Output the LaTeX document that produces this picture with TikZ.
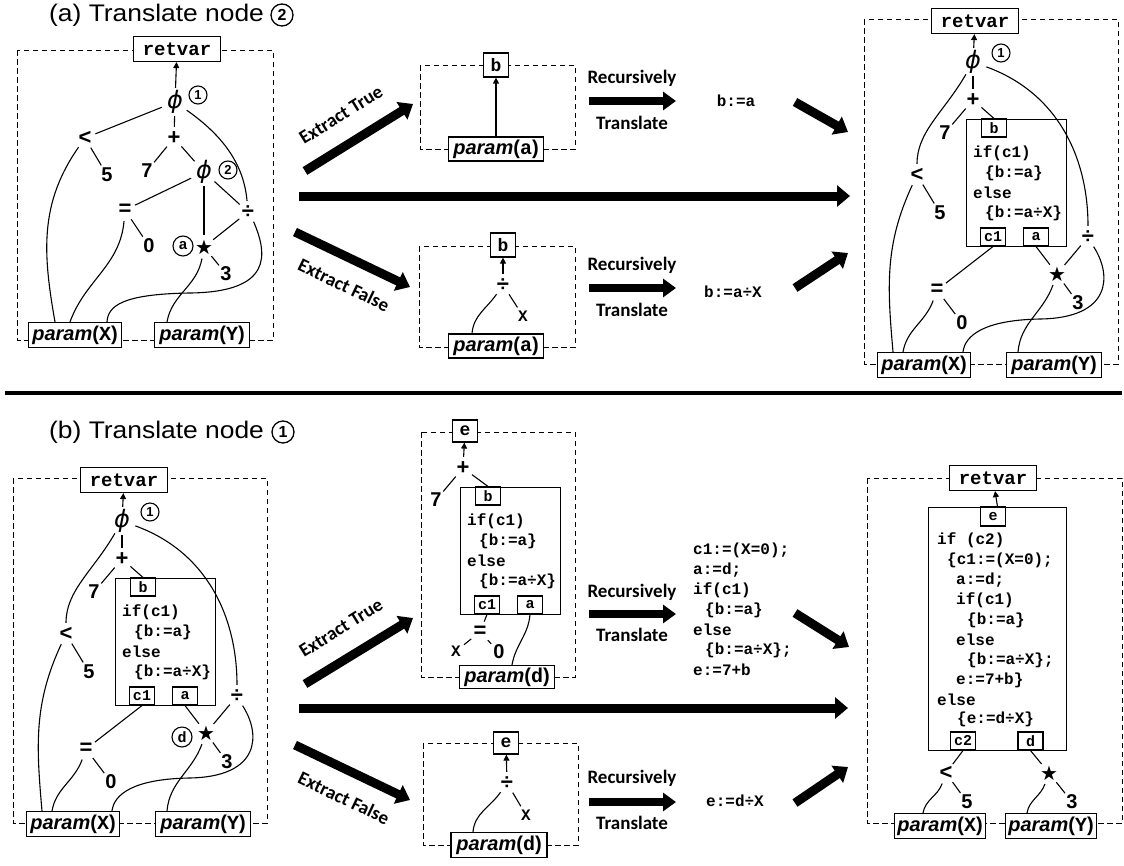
\documentclass[tikz,border=0pt]{standalone}
\usepackage{fontspec}
\usepackage{graphicx}
\setmainfont{Liberation Sans}
\setmonofont{Liberation Mono}
\newfontfamily\calib{Carlito}
\newfontfamily\djv{DejaVu Sans}
\usetikzlibrary{arrows.meta}
\newcommand\myfs[1]{\fontsize{#1}{#1}\selectfont}
\newcommand\prm[1]{\textit{param}(\texttt{#1})}
\newcommand\phig{{\djv\itshape ϕ}}
\newcommand\stg{{\djv\myfs{20}★}}

\tikzset{
  wire/.style={line width=1.1pt},
  dbox/.style={line width=1pt, dash pattern=on 5.5pt off 3.5pt},
  vbox/.style={draw, line width=1.2pt, fill=white, inner sep=0pt, minimum width=87pt, minimum height=25pt, font=\myfs{19}\ttfamily\bfseries},
  sbox/.style={draw, line width=1.1pt, fill=white, inner sep=0pt, minimum width=25pt, minimum height=18pt, font=\myfs{15}\ttfamily\bfseries},
  mbox/.style={draw, line width=1.2pt, fill=white, inner sep=0pt, minimum width=25pt, minimum height=24pt, font=\myfs{18}\ttfamily\bfseries},
  pbox/.style={draw, line width=1.2pt, fill=white, inner sep=0pt, minimum width=93pt, minimum height=25pt, font=\myfs{20}\bfseries},
  ifb/.style={draw, line width=1.1pt, fill=white, inner sep=0pt, anchor=north west},
  opn/.style={circle, inner sep=0pt, minimum size=22pt, font=\myfs{22}\bfseries},
  numn/.style={circle, inner sep=0pt, minimum size=22pt, font=\myfs{20}\bfseries},
  vlab/.style={circle, inner sep=0pt, minimum size=20pt, font=\myfs{16}\ttfamily\bfseries},
  phin/.style={circle, inner sep=0pt, minimum size=26pt, font=\myfs{24}},
  codetxt/.style={inner sep=0pt, anchor=west, font=\myfs{16}\ttfamily\bfseries},
  cnum/.style={circle, draw, line width=1.1pt, inner sep=0pt, minimum size=18pt, font=\myfs{13}\bfseries},
  clet/.style={circle, draw, line width=1.1pt, inner sep=0pt, minimum size=20pt, font=\myfs{15}\ttfamily\bfseries},
  sidetxt/.style={inner sep=0pt, font=\myfs{19}\calib\bfseries},
  ttl/.style={inner sep=0pt, anchor=west, font=\myfs{24}},
  tcirc/.style={circle, draw, line width=1.3pt, inner sep=0pt, minimum size=22pt, font=\myfs{16}\bfseries},
  bigarr/.style={line width=9pt, -{Triangle[length=13pt,width=21pt]}},
  diagarr/.style={line width=9pt, -{Triangle[length=13pt,width=20pt]}},
  medarr/.style={line width=7.5pt, -{Triangle[length=13pt,width=18pt]}},
  smallarr/.style={line width=1.1pt, -{Triangle[length=6pt,width=6pt]}},
  sepline/.style={line width=4pt},
}

\newcommand\ifboxA{%
  \node[ifb, minimum width=100pt, minimum height=127pt] (ib) at (0,0) {};
  \node[sbox] (bb) at (28,-9) {b};
  \node[codetxt] (l1) at (7,-34) {if(c1)};
  \node[codetxt] (l2) at (19,-54) {\{b:=a\}};
  \node[codetxt] (l3) at (7,-74) {else};
  \node[codetxt] (l4) at (19,-94) {\{b:=a÷X\}};
  \node[sbox] (cc) at (27,-118) {c1};
  \node[sbox] (ab) at (70,-118) {a};
}

\newcommand\treeOne{%
  \draw[dbox] (864,-19) rectangle (1118,-364);
  \node[vbox] (rv) at (975,-21) {retvar};
  \node[phin] (phi) at (973,-62) {\phig};
  \node[cnum] (n1) at (1001,-53) {1};
  \node[opn] (plus) at (973,-100) {+};
  \node[numn] (seven) at (945,-133) {7};
  \begin{scope}[shift={(966,-119)}] \ifboxA \end{scope}
  \node[opn] (lt) at (917,-175) {<};
  \node[numn] (five) at (940,-213) {5};
  \node[opn] (div) at (1088,-237) {÷};
  \node[opn] (star) at (1057,-274) {\stg};
  \node[numn] (three) at (1078,-303) {3};
  \node[opn] (eq) at (937,-290) {=};
  \node[numn] (zero) at (962,-323) {0};
  \node[pbox] (px) at (924,-365) {\prm{X}};
  \node[pbox, minimum width=95pt] (py) at (1054,-365) {\prm{Y}};
  \draw[smallarr] (phi) -- (rv);
  \draw[wire] (phi) -- (plus);
  \draw[wire] (plus) -- (seven);
  \draw[wire] (plus) -- (bb.north);
  \draw[wire] (phi) to[out=240,in=90] (lt);
  \draw[wire] (lt) -- (five);
  \draw[wire] (lt) to[out=245,in=95] ([xshift=-31pt]px.north);
  \draw[wire] (cc.south) -- (eq);
  \draw[wire] (eq) -- (zero);
  \draw[wire] (eq) to[out=250,in=80] ([xshift=-21pt]px.north);
  \draw[wire] (ab.south) -- (star);
  \draw[wire] (div) -- (star);
  \draw[wire] (star) -- (three);
  \draw[wire] (star) to[out=250,in=85] ([xshift=-36pt]py.north);
  \draw[wire] (phi) to[out=-20,in=90] (div);
  \draw[wire] (div.-60) .. controls (1112,-275) and (1112,-318) .. (1040,-319) .. controls (985,-320) and (965,-335) .. ([xshift=39pt]px.north);
}

\begin{document}
\begin{tikzpicture}[x=1pt,y=1pt]
\useasboundingbox (0,0) rectangle (1124,-865);

% titles
\node[ttl] (ta) at (49,-15) {\scalebox{1.1}[1]{(a) Translate node}};
\node[tcirc] (ta2) at (282,-15) {2};
\node[ttl] (tb) at (49,-432) {\scalebox{1.1}[1]{(b) Translate node}};
\node[tcirc] (tb1) at (283,-432) {1};

% separator
\coordinate (sepl) at (5,-393);
\coordinate (sepr) at (1122,-393);
\draw[sepline] (sepl) -- (sepr);

% ===== (a) left =====
\begin{scope}[name prefix=al-]
\draw[dbox] (17,-50) rectangle (273,-340);
\node[vbox] (rv) at (177,-49) {retvar};
\node[phin] (phi1) at (175,-102) {\phig};
\node[cnum] (n1) at (198,-95) {1};
\node[opn] (lt) at (85,-138) {<};
\node[opn] (plus) at (174,-138) {+};
\node[numn] (five) at (107,-175) {5};
\node[numn] (seven) at (147,-171) {7};
\node[phin] (phi2) at (204,-172) {\phig};
\node[cnum] (n2) at (228,-170) {2};
\node[opn] (eq) at (125,-210) {=};
\node[opn] (div) at (248,-212) {÷};
\node[numn] (zero) at (149,-246) {0};
\node[clet] (ac) at (183,-246) {a};
\node[opn] (star) at (204,-247) {\stg};
\node[numn] (three) at (226,-274) {3};
\node[pbox] (px) at (75,-335) {\prm{X}};
\node[pbox, minimum width=95pt] (py) at (202,-335) {\prm{Y}};
\draw[smallarr] (phi1) -- (rv);
\draw[wire] (phi1) -- (lt);
\draw[wire] (phi1) -- (plus);
\draw[wire] (phi1) to[out=-35,in=95] (div);
\draw[wire] (lt) -- (five);
\draw[wire] (plus) -- (seven);
\draw[wire] (plus) -- (phi2);
\draw[wire] (lt) to[out=235,in=100] ([xshift=-20pt]px.north);
\draw[wire] (phi2) -- (eq);
\draw[wire] (phi2) -- (star);
\draw[wire] (phi2) -- (div);
\draw[wire] (eq) -- (zero);
\draw[wire] (eq) to[out=265,in=70] ([xshift=-5pt]px.north);
\draw[wire] (star) -- (div);
\draw[wire] (star) -- (three);
\draw[wire] (star) to[out=260,in=80] ([xshift=-35pt]py.north);
\draw[wire] (div.-60) .. controls (268,-255) and (272,-292) .. (190,-293) .. controls (122,-294) and (108,-306) .. ([xshift=32pt]px.north);
\end{scope}

% ===== (a) middle top =====
\begin{scope}[name prefix=amt-]
\draw[dbox] (420,-65) rectangle (575,-149);
\node[mbox] (b) at (496,-65) {b};
\node[pbox, minimum width=95pt, minimum height=24pt] (pa) at (496,-149) {\prm{a}};
\draw[smallarr] (pa) -- (b);
\end{scope}

% ===== (a) middle bottom =====
\begin{scope}[name prefix=amb-]
\draw[dbox] (419,-246) rectangle (575,-347);
\node[mbox] (b) at (503,-245) {b};
\node[opn] (div) at (503,-285) {÷};
\node[vlab] (x) at (523,-316) {X};
\node[pbox, minimum width=95pt, minimum height=24pt] (pa) at (496,-346) {\prm{a}};
\draw[smallarr] (div) -- (b);
\draw[wire] (div) -- (x);
\draw[wire] (div) to[out=235,in=85] ([xshift=-24pt]pa.north);
\end{scope}

% ===== (a) right =====
\begin{scope}[name prefix=ar-]
\treeOne
\end{scope}

% ===== (a) arrows and texts =====
\coordinate (aet-s) at (305,-171); \coordinate (aet-e) at (413,-104);
\draw[diagarr] (aet-s) -- (aet-e);
\node[sidetxt, rotate=31.8] (aetl) at (341,-115) {Extract True};
\coordinate (aef-s) at (295,-232); \coordinate (aef-e) at (410,-287);
\draw[diagarr] (aef-s) -- (aef-e);
\node[sidetxt, rotate=-25.6] (aefl) at (344,-285) {Extract False};
\coordinate (ah-s) at (299,-196); \coordinate (ah-e) at (850,-196);
\draw[bigarr] (ah-s) -- (ah-e);

\coordinate (art-s) at (589,-101); \coordinate (art-e) at (676,-101);
\draw[medarr] (art-s) -- (art-e);
\node[sidetxt] (artr) at (632,-78) {Recursively};
\node[sidetxt] (artt) at (632,-123) {Translate};
\coordinate (arb-s) at (589,-288); \coordinate (arb-e) at (676,-288);
\draw[medarr] (arb-s) -- (arb-e);
\node[sidetxt] (arbr) at (632,-265) {Recursively};
\node[sidetxt] (arbt) at (632,-310) {Translate};

\node[codetxt, anchor=center] (acode1) at (736,-101) {b:=a};
\node[codetxt, anchor=center] (acode2) at (733,-292) {b:=a÷X};

\coordinate (ad1-s) at (795,-102); \coordinate (ad1-e) at (848,-132);
\draw[diagarr] (ad1-s) -- (ad1-e);
\coordinate (ad2-s) at (795,-288); \coordinate (ad2-e) at (848,-253);
\draw[diagarr] (ad2-s) -- (ad2-e);

% ===== (b) left =====
\begin{scope}[shift={(-851,-459)}, name prefix=bl-]
\treeOne
\node[clet] (dc) at (1033,-278) {d};
\end{scope}

% ===== (b) middle top =====
\begin{scope}[name prefix=bmt-]
\draw[dbox] (421,-432) rectangle (575,-677);
\node[mbox, minimum height=22pt] (e) at (465,-431) {e};
\node[opn] (plus) at (463,-468) {+};
\node[numn] (seven) at (436,-500) {7};
\begin{scope}[shift={(460,-487)}] \ifboxA \end{scope}
\node[opn] (eq) at (480,-632) {=};
\node[vlab] (x) at (456,-651) {X};
\node[numn] (zero) at (499,-652) {0};
\node[pbox, minimum width=95pt, minimum height=23pt] (pd) at (507,-677) {\prm{d}};
\draw[smallarr] (plus) -- (e);
\draw[wire] (plus) -- (seven);
\draw[wire] (plus) -- (bb.north);
\draw[wire] (cc.south) -- (eq);
\draw[wire] (eq) -- (x);
\draw[wire] (eq) -- (zero);
\draw[wire] (ab.south) to[out=265,in=80] ([xshift=5pt]pd.north);
\end{scope}

% ===== (b) middle bottom =====
\begin{scope}[name prefix=bmb-]
\draw[dbox] (423,-743) rectangle (578,-845);
\node[mbox, minimum height=22pt] (e) at (506,-743) {e};
\node[opn] (div) at (507,-783) {÷};
\node[vlab] (x) at (526,-815) {X};
\node[pbox, minimum width=96pt] (pd) at (499,-845) {\prm{d}};
\draw[smallarr] (div) -- (e);
\draw[wire] (div) -- (x);
\draw[wire] (div) to[out=235,in=85] ([xshift=-26pt]pd.north);
\end{scope}

% ===== (b) right =====
\begin{scope}[name prefix=br-]
\draw[dbox] (867,-478) rectangle (1122,-823);
\node[vbox] (rv) at (993,-478) {retvar};
\node[ifb, minimum width=138pt, minimum height=243pt] (ib) at (928,-507) {};
\node[sbox, minimum height=19pt] (eb) at (993,-516.5) {e};
\node[codetxt] (m1) at (937,-540) {if (c2)};
\node[codetxt] (m2) at (947,-560) {\{c1:=(X=0);};
\node[codetxt] (m3) at (956,-580) {a:=d;};
\node[codetxt] (m4) at (956,-600) {if(c1)};
\node[codetxt] (m5) at (967,-620) {\{b:=a\}};
\node[codetxt] (m6) at (956,-640) {else};
\node[codetxt] (m7) at (967,-660) {\{b:=a÷X\};};
\node[codetxt] (m8) at (956,-680) {e:=7+b\}};
\node[codetxt] (m9) at (937,-700) {else};
\node[codetxt] (m10) at (957,-719) {\{e:=d÷X\}};
\node[sbox] (c2) at (963,-741) {c2};
\node[sbox] (db) at (1030.5,-741) {d};
\node[opn] (lt) at (946,-773) {<};
\node[numn] (five) at (967,-802) {5};
\node[opn] (star) at (1049,-773) {\stg};
\node[numn] (three) at (1072,-802) {3};
\node[pbox, minimum width=91pt] (px) at (940,-826) {\prm{X}};
\node[pbox, minimum width=91pt] (py) at (1051,-826) {\prm{Y}};
\draw[smallarr] (ib.north) -- (rv);
\draw[wire] (c2.south) -- (lt);
\draw[wire] (lt) -- (five);
\draw[wire] (lt) to[out=250,in=80] ([xshift=-17pt]px.north);
\draw[wire] (db.south) -- (star);
\draw[wire] (star) -- (three);
\draw[wire] (star) to[out=250,in=80] ([xshift=-24pt]py.north);
\end{scope}

% ===== (b) arrows and texts =====
\coordinate (bet-s) at (305,-684); \coordinate (bet-e) at (413,-618);
\draw[diagarr] (bet-s) -- (bet-e);
\node[sidetxt, rotate=31.8] (betl) at (341,-628) {Extract True};
\coordinate (bef-s) at (295,-745); \coordinate (bef-e) at (410,-800);
\draw[diagarr] (bef-s) -- (bef-e);
\node[sidetxt, rotate=-25.6] (befl) at (344,-798) {Extract False};
\coordinate (bh-s) at (299,-708); \coordinate (bh-e) at (848,-708);
\draw[bigarr] (bh-s) -- (bh-e);

\coordinate (brt-s) at (589,-614); \coordinate (brt-e) at (676,-614);
\draw[medarr] (brt-s) -- (brt-e);
\node[sidetxt] (brtr) at (632,-592) {Recursively};
\node[sidetxt] (brtt) at (632,-635) {Translate};
\coordinate (brb-s) at (589,-802); \coordinate (brb-e) at (676,-802);
\draw[medarr] (brb-s) -- (brb-e);
\node[sidetxt] (brbr) at (632,-778) {Recursively};
\node[sidetxt] (brbt) at (632,-823) {Translate};

\node[codetxt] (k1) at (693,-550) {c1:=(X=0);};
\node[codetxt] (k2) at (693,-570) {a:=d;};
\node[codetxt] (k3) at (693,-590) {if(c1)};
\node[codetxt] (k4) at (705,-610) {\{b:=a\}};
\node[codetxt] (k5) at (693,-630) {else};
\node[codetxt] (k6) at (705,-650) {\{b:=a÷X\};};
\node[codetxt] (k7) at (693,-670) {e:=7+b};
\node[codetxt, anchor=center] (bcode2) at (735,-801) {e:=d÷X};

\coordinate (bd1-s) at (795,-613); \coordinate (bd1-e) at (849,-647);
\draw[diagarr] (bd1-s) -- (bd1-e);
\coordinate (bd2-s) at (795,-803); \coordinate (bd2-e) at (848,-767);
\draw[diagarr] (bd2-s) -- (bd2-e);
\end{tikzpicture}
\end{document}
